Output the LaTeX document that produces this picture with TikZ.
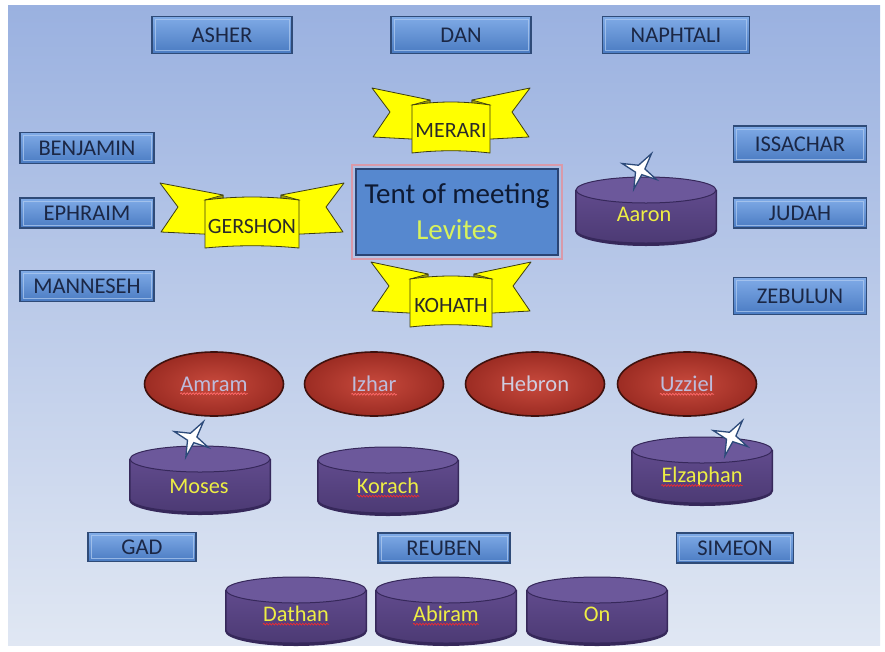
\documentclass[tikz,border=0pt]{standalone}
\usepackage{fontspec}
\setmainfont{Carlito}
\usetikzlibrary{shapes.geometric,decorations.pathmorphing}
\definecolor{bgtop}{HTML}{9AB1E0}
\definecolor{bgbot}{HTML}{E0E7F3}
\definecolor{tribetop}{HTML}{80ABE7}
\definecolor{tribebot}{HTML}{4A7BC2}
\definecolor{tribeline}{HTML}{2F4B78}
\definecolor{tribetext}{HTML}{1B2745}
\definecolor{tentfill}{HTML}{5688CF}
\definecolor{tentline}{HTML}{2A4474}
\definecolor{tentpink}{HTML}{D99AAA}
\definecolor{tenttext}{HTML}{0E1A33}
\definecolor{levites}{HTML}{D8F25C}
\definecolor{bannerfill}{HTML}{FFFF00}
\definecolor{bannerfold}{HTML}{9A9A10}
\definecolor{bannerline}{HTML}{3C3C10}
\definecolor{bannertext}{HTML}{2A2A2A}
\definecolor{cylbody}{HTML}{614B8D}
\definecolor{cylbodydark}{HTML}{4C3A74}
\definecolor{cyltop}{HTML}{6C589B}
\definecolor{cylline}{HTML}{36285A}
\definecolor{cyltext}{HTML}{EEEE44}
\definecolor{redin}{HTML}{C84A3D}
\definecolor{redout}{HTML}{9C2C23}
\definecolor{redline}{HTML}{3E110D}
\definecolor{elltext}{HTML}{BDBCDC}
\definecolor{elltextlight}{HTML}{CFCDE0}
\definecolor{starline}{HTML}{2C4A7A}
\definecolor{wavyred}{HTML}{F02A30}
\definecolor{wavybright}{HTML}{FF6A6A}
\newcommand\squiggle[2][wavyred]{\draw[wavy, #1] ([yshift=-2.5pt]#2.base west) -- ([yshift=-2.5pt]#2.base east);}
\tikzset{
  tribe/.style={rectangle, draw=tribeline, line width=1.4pt, top color=tribetop, bottom color=tribebot,
    text=tribetext, font=\fontsize{22.5}{26}\selectfont, inner sep=0pt,
    path picture={\draw[tribetop!60!white, line width=0.8pt, opacity=0.7]
      ([shift={(3pt,-3pt)}]path picture bounding box.north west) rectangle
      ([shift={(-3pt,3pt)}]path picture bounding box.south east);}},
  tentbox/.style={rectangle, draw=tentline, line width=2pt, fill=tentfill, align=center,
    minimum width=202pt, minimum height=86pt, inner sep=0pt, font=\fontsize{29}{36}\selectfont},
  redell/.style={ellipse, minimum width=139pt, minimum height=64pt, inner sep=0pt,
    draw=redline, line width=1.6pt, inner color=redin, outer color=redout},
  elltxt/.style={inner sep=0pt, text=elltext, font=\fontsize{22.5}{26}\selectfont},
  cyltxt/.style={inner sep=0pt, text=cyltext, font=\fontsize{22.3}{26}\selectfont},
  bannertxt/.style={inner sep=0pt, text=bannertext, font=\fontsize{21.8}{26}\selectfont},
  wavy/.style={line width=0.7pt, decorate, decoration={snake, amplitude=0.9pt, segment length=3pt}},
  pics/cyl/.style={code={
    \fill[cylline] (-71,-20) -- (-71,21) arc[start angle=180,end angle=0,x radius=71,y radius=15] -- (71,-20) -- cycle;
    \path[draw=cylline, line width=1pt, top color=cylbody, bottom color=cylbodydark]
      (-70,-20) -- (-70,20) arc[start angle=180,end angle=0,x radius=70,y radius=13] -- (70,-20) -- cycle;
    \path[draw=cylline, line width=1pt, fill=cyltop] (0,-20) ellipse[x radius=70, y radius=13];
  }},
  pics/star4/.style={code={
    \draw[starline, line width=1.3pt, fill=white, line join=miter]
      (-55:20) -- (-12:5) -- (30:19) -- (69:5) -- (108:20) -- (154:5) -- (200:19) -- (252:5) -- cycle;
  }},
  pics/banner/.style 2 args={code={
    \draw[bannerline, fill=bannerfill, line width=0.8pt, line join=round]
      (-#2,-41) -- (-#1+18,-29) -- (-#1+18,11) -- (-#2+1,8) -- (-#2+18,-17) -- cycle;
    \draw[bannerline, fill=bannerfill, line width=0.8pt, line join=round]
      (#2,-41) -- (#1-18,-29) -- (#1-18,11) -- (#2-1,8) -- (#2-18,-17) -- cycle;
    \draw[bannerline, fill=bannerfold, line width=0.6pt] (-#1,-24) -- (-#1+18,-29) -- (-#1+18,-22) -- cycle;
    \draw[bannerline, fill=bannerfold, line width=0.6pt] (#1,-24) -- (#1-18,-29) -- (#1-18,-22) -- cycle;
    \draw[bannerline, fill=bannerfill, line width=0.8pt, line join=round]
      (-#1,-24) .. controls (-#1/3,-28) and (#1/3,-28) .. (#1,-24) -- (#1,24)
      .. controls (#1/3,21) and (-#1/3,21) .. (-#1,24) -- cycle;
  }}
}
\begin{document}
\begin{tikzpicture}[x=1pt,y=-1pt]
\useasboundingbox (0,0) rectangle (885,651);
\fill[white] (0,0) rectangle (885,651);
\shade[top color=bgtop, bottom color=bgbot] (8,5) rectangle (880,645);

% tribes
\node[tribe, minimum width=140pt, minimum height=37pt] (asher) at (222,35) {ASHER};
\node[tribe, minimum width=140pt, minimum height=37pt] (dan) at (461,35) {DAN};
\node[tribe, minimum width=147pt, minimum height=37pt] (naphtali) at (676,35) {NAPHTALI};
\node[tribe, minimum width=134pt, minimum height=31pt] (benjamin) at (87,148) {BENJAMIN};
\node[tribe, minimum width=134pt, minimum height=30pt] (ephraim) at (87,213) {EPHRAIM};
\node[tribe, minimum width=134pt, minimum height=31pt] (manneseh) at (87,286) {MANNESEH};
\node[tribe, minimum width=133pt, minimum height=36pt] (issachar) at (800,144) {ISSACHAR};
\node[tribe, minimum width=133pt, minimum height=30pt] (judah) at (800,213) {JUDAH};
\node[tribe, minimum width=133pt, minimum height=37pt] (zebulun) at (800,296) {ZEBULUN};
\node[tribe, minimum width=108pt, minimum height=29pt] (gad) at (142,547) {GAD};
\node[tribe, minimum width=132pt, minimum height=30pt] (reuben) at (444,548) {REUBEN};
\node[tribe, minimum width=117pt, minimum height=30pt] (simeon) at (735,548) {SIMEON};

% tent
\node[tentbox] (tent) at (457,212) {\textcolor{tenttext}{Tent of meeting}\\\textcolor{levites}{Levites}};
\draw[tentpink, line width=1.8pt] ([shift={(-3pt,3pt)}]tent.north west) rectangle ([shift={(3pt,-3pt)}]tent.south east);

% banners
\pic at (451,129) {banner={39}{79}};
\node[bannertxt] (merari) at (451,131) {MERARI};
\pic at (252,224) {banner={47}{92}};
\node[bannertxt] (gershon) at (252,226) {GERSHON};
\pic at (451,303) {banner={41}{80}};
\node[bannertxt] (kohath) at (451,305) {KOHATH};

% Aaron
\pic at (646,210) {cyl};
\node[cyltxt] (aaron) at (644,214) {Aaron};
\pic at (640,170) {star4};

% clans
\node[redell] (amram) at (214,384) {};
\node[elltxt] (amramT) at (amram) {Amram};
\node[redell] (izhar) at (374,384) {};
\node[elltxt] (izharT) at (izhar) {Izhar};
\node[redell] (hebron) at (535,384) {};
\node[elltxt, text=elltextlight] (hebronT) at (hebron) {Hebron};
\node[redell] (uzziel) at (687,384) {};
\node[elltxt] (uzzielT) at (uzziel) {Uzziel};
\squiggle[wavybright]{amramT}
\squiggle[wavybright]{izharT}
\squiggle[wavybright]{uzzielT}

% persons
\pic at (200,479) {cyl};
\node[cyltxt] (moses) at (199,486) {Moses};
\pic at (192,438) {star4};
\pic at (388,480) {cyl};
\node[cyltxt] (korach) at (388,486) {Korach};
\pic at (702,470) {cyl};
\node[cyltxt] (elzaphan) at (702,477) {Elzaphan};
\pic at (731,437) {star4};
\pic at (296,610) {cyl};
\node[cyltxt] (dathan) at (296,614) {Dathan};
\pic at (446,610) {cyl};
\node[cyltxt] (abiram) at (446,614) {Abiram};
\pic at (597,610) {cyl};
\node[cyltxt] (on) at (597,614) {On};
\squiggle{korach}
\squiggle{elzaphan}
\squiggle{dathan}
\squiggle{abiram}
\end{tikzpicture}
\end{document}
